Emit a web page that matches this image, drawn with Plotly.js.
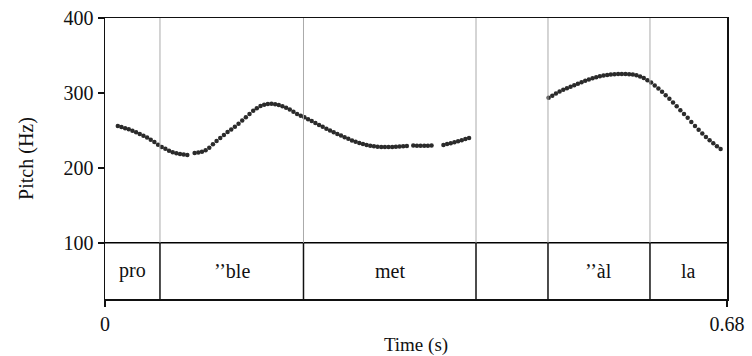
<!DOCTYPE html>
<html>
<head>
<meta charset="utf-8">
<script src="https://cdn.plot.ly/plotly-3.0.1.min.js"></script>
<style>html,body{margin:0;padding:0;background:#fff;}#chart{width:752px;height:356px;}</style>
</head>
<body>
<div id="chart"></div>
<script>
// Pitch track (s, Hz)
const pitchTime = [
  0.014,0.018,0.022,0.026,0.030,0.034,0.038,0.042,0.046,0.050,0.054,0.058,0.062,0.066,0.070,0.074,0.078,0.082,0.086,0.090,
  0.098,0.102,0.106,0.110,0.114,0.118,0.122,0.126,0.130,0.134,0.138,0.142,0.146,0.150,0.154,0.158,0.162,0.166,0.170,0.174,
  0.178,0.182,0.186,0.190,0.194,0.198,0.202,0.206,0.210,0.214,0.218,0.222,0.226,0.230,0.234,0.238,0.242,0.246,0.250,0.254,
  0.258,0.262,0.266,0.270,0.274,0.278,0.282,0.286,0.290,0.294,0.298,0.302,0.306,0.310,0.314,0.318,0.322,0.326,0.330,
  0.337,0.341,0.345,0.349,0.353,0.357,
  0.370,0.374,0.378,0.382,0.386,0.390,0.394,0.398,
  0.485,0.489,0.493,0.497,0.501,0.505,0.509,0.513,0.517,0.521,0.525,0.529,0.533,0.537,0.541,0.545,0.549,0.553,0.557,0.561,
  0.565,0.569,0.573,0.577,0.581,0.585,0.589,0.593,0.597,0.601,0.605,0.609,0.613,0.617,0.621,0.625,0.629,0.633,0.637,0.641,
  0.645,0.649,0.653,0.657,0.661,0.665,0.669,0.673
];
const pitchHz = [
  256.0,254.6,253.0,251.4,249.5,247.5,245.3,243.0,240.5,237.5,234.5,231.0,228.0,225.5,223.0,221.0,219.5,218.5,217.8,217.3,
  219.8,220.5,221.6,223.5,227.0,231.5,235.8,240.0,244.0,247.8,251.3,255.0,259.0,263.2,267.5,271.8,276.2,279.6,282.5,284.2,
  285.2,285.4,284.8,284.0,282.2,280.3,277.8,275.0,271.8,269.6,267.5,265.0,262.5,260.0,257.3,254.8,252.3,249.8,247.5,245.3,
  243.2,241.0,238.7,236.6,234.8,233.2,231.7,230.5,229.5,228.7,228.1,227.8,227.7,227.8,228.0,228.3,228.6,228.9,229.2,
  229.8,229.6,229.5,229.4,229.5,229.7,
  230.5,231.8,233.0,234.3,235.6,237.0,238.4,239.8,
  293.5,296.4,299.2,301.9,304.2,306.3,308.3,310.3,312.3,314.3,316.2,318.0,319.6,321.0,322.2,323.2,324.0,324.6,325.0,325.3,
  325.4,325.3,325.0,324.5,323.5,322.0,319.8,317.0,313.8,310.0,305.8,301.5,297.0,292.3,287.3,282.2,277.0,272.0,266.8,261.3,
  256.0,251.0,246.0,241.2,236.8,232.7,228.8,225.2
];

// TextGrid tier
const intervalEdges = [0, 0.0601, 0.2170, 0.4056, 0.4843, 0.5958, 0.68];
const intervalLabels = ['pro', '\u2019\u2019ble', 'met', '', '\u2019\u2019\u00e0l', 'la'];

// Axis ticks
const yTicks = [100, 200, 300, 400];
const xTickVals = [0, 0.68];
const xTickText = ['0', '0.68'];

const tierBottom = 25, tierTop = 100, pitchTop = 400;

const shapes = [];
// tier top line
shapes.push({type:'line', xref:'x', yref:'y', x0:intervalEdges[0], x1:intervalEdges[intervalEdges.length-1], y0:tierTop, y1:tierTop, line:{color:'#000', width:1.5}});
for (let i = 1; i < intervalEdges.length - 1; i++) {
  const e = intervalEdges[i];
  shapes.push({type:'line', xref:'x', yref:'y', x0:e, x1:e, y0:tierBottom, y1:tierTop, line:{color:'#111', width:1.5}});
  shapes.push({type:'line', xref:'x', yref:'y', x0:e, x1:e, y0:tierTop, y1:pitchTop, line:{color:'#aaa', width:1}});
}
const annotations = [];
for (let i = 0; i < intervalLabels.length; i++) {
  if (!intervalLabels[i]) continue;
  annotations.push({
    xref:'x', yref:'y', x:(intervalEdges[i] + intervalEdges[i+1]) / 2, y:(tierBottom + tierTop) / 2,
    text:intervalLabels[i], showarrow:false,
    font:{family:'Liberation Serif, Times New Roman, serif', size:20, color:'#111'}
  });
}

const trace = {
  x: pitchTime, y: pitchHz, type:'scatter', mode:'markers',
  marker:{size:4.5, color:'#2b2b2b'}, hoverinfo:'skip'
};

const layout = {
  width:752, height:356,
  margin:{l:105, r:25, t:18, b:57},
  paper_bgcolor:'#fff', plot_bgcolor:'#fff',
  showlegend:false,
  font:{family:'Liberation Serif, Times New Roman, serif', size:20, color:'#111'},
  xaxis:{
    range:[0, 0.68], tickvals:xTickVals, ticktext:xTickText,
    showgrid:false, zeroline:false, showline:true, mirror:true,
    linecolor:'#111', linewidth:1.5, ticks:'outside', ticklen:6, tickwidth:1.5, tickcolor:'#111',
    tickfont:{size:20},
    title:{text:'Time (s)', font:{size:19}, standoff:9}
  },
  yaxis:{
    range:[tierBottom, pitchTop], tickvals:yTicks,
    showgrid:false, zeroline:false, showline:true, mirror:true,
    linecolor:'#111', linewidth:1.5, ticks:'outside', ticklen:6, tickwidth:1.5, tickcolor:'#111',
    tickfont:{size:20},
    title:{text:'Pitch (Hz)', font:{size:20}, standoff:24}
  },
  shapes:shapes,
  annotations:annotations
};

Plotly.newPlot('chart', [trace], layout, {displayModeBar:false, staticPlot:true});
</script>
</body>
</html>
